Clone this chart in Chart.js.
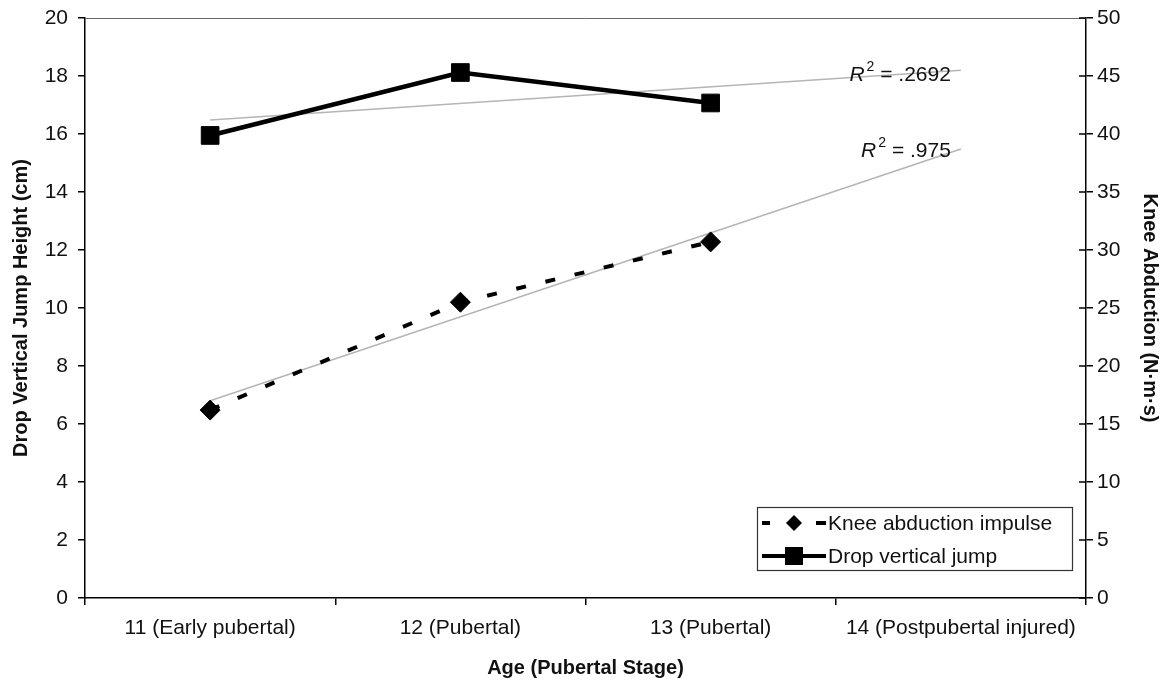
<!DOCTYPE html>
<html>
<head>
<meta charset="utf-8">
<script src="https://cdn.jsdelivr.net/npm/chart.js@4"></script>
<style>
  html, body { margin: 0; padding: 0; background: #fff; }
</style>
</head>
<body>
<canvas id="chart" width="1168" height="684"></canvas>
<script>
// data
const stages = ['11 (Early pubertal)', '12 (Pubertal)', '13 (Pubertal)', '14 (Postpubertal injured)'];
const dropJump = [15.95, 18.12, 17.07, null];      // cm, left axis
const kneeImpulse = [16.2, 25.5, 30.7, null];      // N·m·s, right axis
const dropTrend = [16.48, null, null, 18.2];       // linear fit ends, left axis
const kneeTrend = [17.0, null, null, 38.7];        // linear fit ends, right axis
const r2Values = ['.2692', '.975'];
const legendNames = ['Knee abduction impulse', 'Drop vertical jump'];

const FONT = "'Liberation Sans', Arial, sans-serif";
const INK = '#111';
const TXT = 21;

// extra drawing: top border, inner half of right ticks, R² labels, legend box
const extras = {
    id: 'extras',
    afterDatasetsDraw(chart) {
        const { ctx, chartArea, scales } = chart;
        ctx.save();

        // top border of plot area
        ctx.strokeStyle = '#666';
        ctx.lineWidth = 1;
        ctx.beginPath();
        ctx.moveTo(chartArea.left, chartArea.top + 0.5);
        ctx.lineTo(chartArea.right, chartArea.top + 0.5);
        ctx.stroke();

        // right axis ticks cross the axis line
        ctx.strokeStyle = '#000';
        ctx.lineWidth = 1.5;
        scales.y1.ticks.forEach(t => {
            const py = Math.round(scales.y1.getPixelForValue(t.value));
            ctx.beginPath();
            ctx.moveTo(chartArea.right - 7, py);
            ctx.lineTo(chartArea.right, py);
            ctx.stroke();
        });

        // R² labels next to the fitted lines
        const xEnd = scales.x.getPixelForValue(3);
        const anchors = [
            scales.y.getPixelForValue(dropTrend[3]),
            scales.y1.getPixelForValue(kneeTrend[3])
        ];
        ctx.fillStyle = INK;
        ctx.textBaseline = 'alphabetic';
        r2Values.forEach((v, i) => {
            const rest = ' = ' + v;
            ctx.font = `${TXT}px ${FONT}`;
            const wRest = ctx.measureText(rest).width;
            ctx.font = `14px ${FONT}`;
            const wSup = ctx.measureText('2').width;
            ctx.font = `italic ${TXT}px ${FONT}`;
            const wR = ctx.measureText('R').width;
            const right = xEnd - 10;
            const base = anchors[i] + (i === 0 ? 11 : 8);
            let x = right - wRest - wSup - wR - 2;
            ctx.textAlign = 'left';
            ctx.fillText('R', x, base);
            x += wR + 2;
            ctx.font = `14px ${FONT}`;
            ctx.fillText('2', x, base - 10);
            x += wSup;
            ctx.font = `${TXT}px ${FONT}`;
            ctx.fillText(rest, x, base);
        });

        // legend
        const bx = chartArea.right - 329, by = chartArea.bottom - 91;
        const bw = 315, bh = 63;
        ctx.fillStyle = '#fff';
        ctx.fillRect(bx, by, bw, bh);
        ctx.strokeStyle = '#333';
        ctx.lineWidth = 1.2;
        ctx.strokeRect(bx + 0.5, by + 0.5, bw, bh);

        const rows = [by + 16, by + 49];
        const sx0 = bx + 5, sx1 = bx + 69, mid = bx + 37;
        ctx.strokeStyle = '#000';
        ctx.fillStyle = '#000';
        ctx.lineWidth = 4;
        // dashed sample
        ctx.beginPath();
        ctx.moveTo(sx0, rows[0]); ctx.lineTo(sx0 + 8, rows[0]);
        ctx.moveTo(sx1 - 10, rows[0]); ctx.lineTo(sx1, rows[0]);
        ctx.stroke();
        ctx.beginPath();
        ctx.moveTo(mid, rows[0] - 8); ctx.lineTo(mid + 8, rows[0]);
        ctx.lineTo(mid, rows[0] + 8); ctx.lineTo(mid - 8, rows[0]);
        ctx.closePath(); ctx.fill();
        // solid sample
        ctx.beginPath();
        ctx.moveTo(sx0, rows[1]); ctx.lineTo(sx1, rows[1]);
        ctx.stroke();
        ctx.fillRect(mid - 9, rows[1] - 9, 18, 18);

        ctx.fillStyle = INK;
        ctx.font = `${TXT}px ${FONT}`;
        ctx.textAlign = 'left';
        ctx.textBaseline = 'middle';
        legendNames.forEach((n, i) => ctx.fillText(n, sx1 + 2, rows[i] + 1));

        ctx.restore();
    }
};

// fixed box sizes so the plot area sits where it does in the figure
function fitY(w) {
    return s => {
        s.width = w;
        s.paddingTop = 0;
        s.paddingBottom = 0;
    };
}

const ctx = document.getElementById('chart').getContext('2d');
new Chart(ctx, {
    type: 'line',
    data: {
        labels: stages,
        datasets: [
            {
                label: 'fit jump',
                data: dropTrend,
                yAxisID: 'y',
                borderColor: '#b5b5b5',
                borderWidth: 1.5,
                pointRadius: 0,
                spanGaps: true,
                order: 3
            },
            {
                label: 'fit knee',
                data: kneeTrend,
                yAxisID: 'y1',
                borderColor: '#b5b5b5',
                borderWidth: 1.5,
                pointRadius: 0,
                spanGaps: true,
                order: 3
            },
            {
                label: legendNames[0],
                data: kneeImpulse,
                yAxisID: 'y1',
                borderColor: '#000',
                borderWidth: 4,
                borderDash: [10, 20],
                pointStyle: 'rectRot',
                pointRadius: 10,
                pointBackgroundColor: '#000',
                pointBorderColor: '#000',
                pointBorderWidth: 1,
                order: 1
            },
            {
                label: legendNames[1],
                data: dropJump,
                yAxisID: 'y',
                borderColor: '#000',
                borderWidth: 4.5,
                pointStyle: 'rect',
                pointRadius: 12.5,
                pointBackgroundColor: '#000',
                pointBorderColor: '#000',
                pointBorderWidth: 1,
                order: 2
            }
        ]
    },
    options: {
        responsive: false,
        animation: false,
        layout: { padding: { top: 18, left: 0, right: 0, bottom: 0 } },
        plugins: {
            legend: { display: false },
            tooltip: { enabled: false }
        },
        scales: {
            x: {
                offset: true,
                grid: { drawOnChartArea: false, offset: true, tickLength: 7, color: '#000', lineWidth: 1.5 },
                border: { color: '#000', width: 1.5 },
                ticks: { color: INK, font: { family: FONT, size: TXT }, padding: 11, maxRotation: 0 },
                title: {
                    display: true,
                    text: 'Age (Pubertal Stage)',
                    color: INK,
                    font: { family: FONT, size: 20, weight: 'bold' },
                    padding: { top: 4, bottom: 4 }
                },
                afterFit: s => { s.height = 86; s.paddingLeft = 0; s.paddingRight = 0; }
            },
            y: {
                position: 'left',
                min: 0,
                max: 20,
                ticks: { stepSize: 2, color: INK, font: { family: FONT, size: TXT }, padding: 10 },
                grid: { drawOnChartArea: false, tickLength: 7, color: '#000', lineWidth: 1.5 },
                border: { color: '#000', width: 1.5 },
                title: {
                    display: true,
                    text: 'Drop Vertical Jump Height (cm)',
                    color: INK,
                    font: { family: FONT, size: 20, weight: 'bold' },
                    padding: { top: 9, bottom: 4 }
                },
                afterFit: fitY(85)
            },
            y1: {
                position: 'right',
                min: 0,
                max: 50,
                ticks: { stepSize: 5, color: INK, font: { family: FONT, size: TXT }, padding: 4 },
                grid: { drawOnChartArea: false, tickLength: 7, color: '#000', lineWidth: 1.5 },
                border: { color: '#000', width: 1.5 },
                title: {
                    display: true,
                    text: 'Knee Abduction (N·m·s)',
                    color: INK,
                    font: { family: FONT, size: 20, weight: 'bold' },
                    padding: { top: 6, bottom: 4 }
                },
                afterFit: fitY(82)
            }
        }
    },
    plugins: [extras]
});
</script>
</body>
</html>
